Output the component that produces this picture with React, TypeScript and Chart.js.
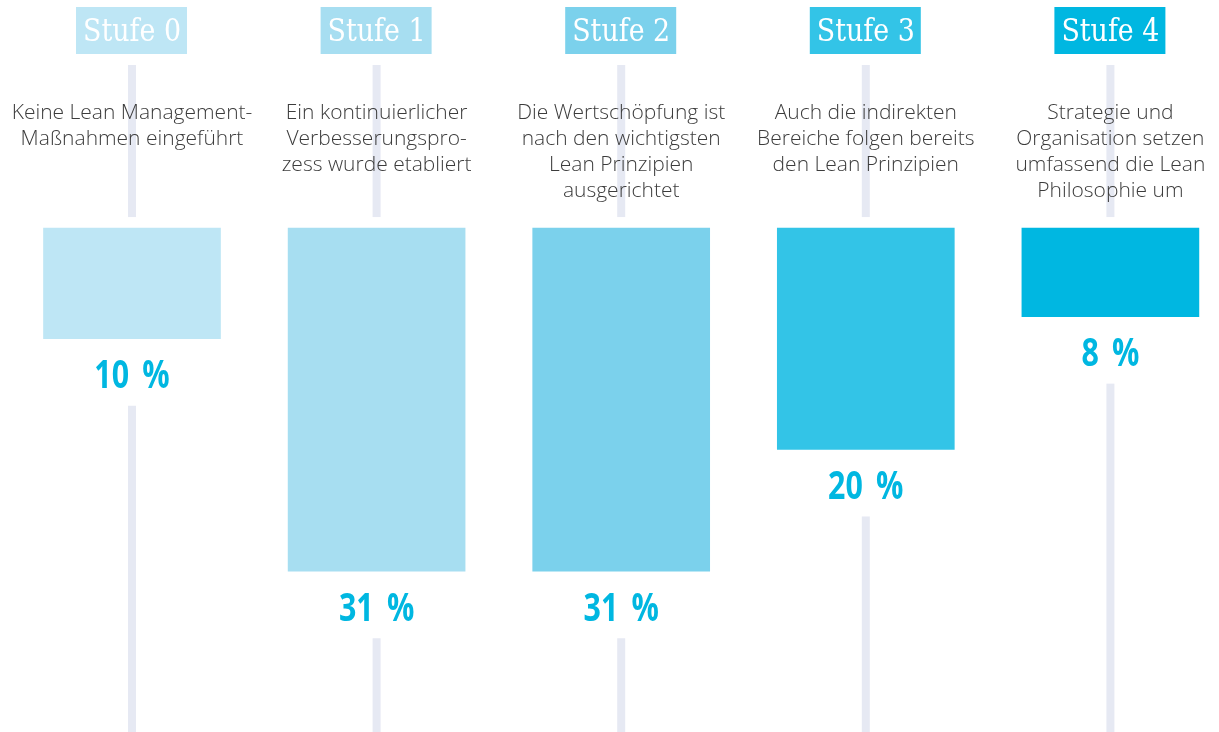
import React, { useEffect, useRef } from "react";
import { Chart, registerables } from "chart.js";

Chart.register(...registerables);

const stages = ["Stufe 0", "Stufe 1", "Stufe 2", "Stufe 3", "Stufe 4"];
const values = [10, 31, 31, 20, 8];
const valueLabels = ["10 %", "31 %", "31 %", "20 %", "8 %"];
const descriptions = [
  ["Keine Lean Management-", "Maßnahmen eingeführt"],
  ["Ein kontinuierlicher", "Verbesserungspro-", "zess wurde etabliert"],
  ["Die Wertschöpfung ist", "nach den wichtigsten", "Lean Prinzipien", "ausgerichtet"],
  ["Auch die indirekten", "Bereiche folgen bereits", "den Lean Prinzipien"],
  ["Strategie und", "Organisation setzen", "umfassend die Lean", "Philosophie um"],
];
const colors = ["#bee6f5", "#a7def1", "#7bd1ec", "#33c4e7", "#00b7e1"];

const W = 1219;
const H = 732;

const overlayPlugin = {
  id: "stufenOverlay",
  beforeDatasetsDraw(chart: any) {
    const ctx = chart.ctx;
    const xs = chart.scales.x;
    const ys = chart.scales.y;
    const meta = chart.getDatasetMeta(0);
    ctx.save();
    ctx.fillStyle = "#e6e9f3";
    values.forEach((v, i) => {
      const cx = xs.getPixelForValue(i);
      const top = ys.getPixelForValue(0);
      const bottom = meta.data[i].y;
      ctx.fillRect(cx - 4, 65, 8, top - 11 - 65);
      const lineStart = bottom + 36 + 31;
      ctx.fillRect(cx - 4, lineStart, 8, H - lineStart);
    });
    ctx.restore();
  },
  afterDatasetsDraw(chart: any) {
    const ctx = chart.ctx;
    const xs = chart.scales.x;
    const meta = chart.getDatasetMeta(0);
    ctx.save();
    // headers
    stages.forEach((s, i) => {
      const cx = xs.getPixelForValue(i);
      ctx.fillStyle = colors[i];
      ctx.fillRect(cx - 56, 7, 111, 47);
      ctx.fillStyle = "#ffffff";
      ctx.font = "31px 'DejaVu Serif'";
      ctx.textAlign = "center";
      ctx.textBaseline = "middle";
      const m = ctx.measureText(s).width;
      const sc = Math.min(1, 98 / m);
      ctx.save();
      ctx.translate(cx, 33);
      ctx.scale(sc, 1);
      ctx.fillText(s, 0, 0);
      ctx.restore();
    });
    // descriptions
    descriptions.forEach((lines, i) => {
      const cx = xs.getPixelForValue(i);
      ctx.fillStyle = "#3c3c3c";
      ctx.font = "300 21px 'Open Sans'";
      ctx.textAlign = "center";
      ctx.textBaseline = "middle";
      lines.forEach((ln, j) => {
        ctx.fillText(ln, cx, 113 + j * 26);
      });
    });
    // value labels
    valueLabels.forEach((lab, i) => {
      const cx = xs.getPixelForValue(i);
      const bottom = meta.data[i].y;
      ctx.fillStyle = "#00b7e1";
      ctx.font = "bold 40px 'Open Sans'";
      ctx.textAlign = "center";
      ctx.textBaseline = "middle";
      try {
        (ctx as any).wordSpacing = "7px";
      } catch (e) {}
      ctx.save();
      ctx.translate(cx, bottom + 36);
      ctx.scale(0.76, 1);
      ctx.fillText(lab, 0, 2);
      ctx.restore();
      try {
        (ctx as any).wordSpacing = "0px";
      } catch (e) {}
    });
    ctx.restore();
  },
};

export default function App() {
  const ref = useRef<HTMLCanvasElement | null>(null);
  useEffect(() => {
    document.body.style.margin = "0";
    const canvas = ref.current!;
    const chart = new Chart(canvas, {
      type: "bar",
      data: {
        datasets: [
          {
            data: values.map((v, i) => ({ x: i, y: v })),
            backgroundColor: colors,
            borderWidth: 0,
            barThickness: 177,
          },
        ],
      },
      options: {
        animation: false,
        responsive: false,
        maintainAspectRatio: false,
        layout: { padding: 0 },
        plugins: {
          legend: { display: false },
          tooltip: { enabled: false },
        },
        scales: {
          x: {
            type: "linear",
            display: false,
            offset: false,
            min: -0.5397,
            max: 4.444,
            grid: { display: false },
          },
          y: {
            type: "linear",
            display: false,
            reverse: true,
            min: -20.6,
            max: 45.52,
            grid: { display: false },
          },
        },
      },
      plugins: [overlayPlugin],
    });
    return () => chart.destroy();
  }, []);
  return (
    <div style={{ width: W, height: H, overflow: "hidden", background: "#ffffff" }}>
      <canvas ref={ref} width={W} height={H} style={{ display: "block", width: W, height: H }} />
    </div>
  );
}
